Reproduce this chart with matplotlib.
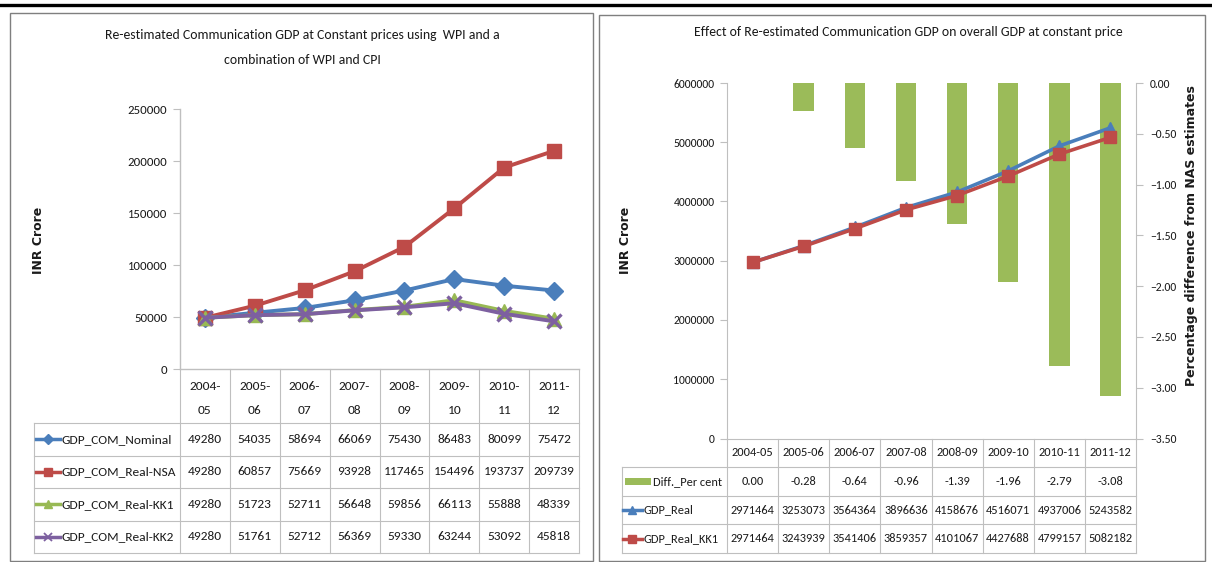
import numpy as np
import matplotlib
matplotlib.use("Agg")
import matplotlib.pyplot as plt
from matplotlib.lines import Line2D
from matplotlib.patches import Rectangle
from matplotlib import font_manager
from matplotlib.font_manager import FontProperties
from matplotlib.transforms import blended_transform_factory
from matplotlib.ticker import StrMethodFormatter

# ---------------- data ----------------
years = ['2004-05', '2005-06', '2006-07', '2007-08', '2008-09', '2009-10', '2010-11', '2011-12']

left_series_names = ['GDP_COM_Nominal', 'GDP_COM_Real-NSA', 'GDP_COM_Real-KK1', 'GDP_COM_Real-KK2']
gdp_com_nominal = [49280, 54035, 58694, 66069, 75430, 86483, 80099, 75472]
gdp_com_real_nsa = [49280, 60857, 75669, 93928, 117465, 154496, 193737, 209739]
gdp_com_real_kk1 = [49280, 51723, 52711, 56648, 59856, 66113, 55888, 48339]
gdp_com_real_kk2 = [49280, 51761, 52712, 56369, 59330, 63244, 53092, 45818]

right_series_names = ['Diff._Per cent', 'GDP_Real', 'GDP_Real_KK1']
diff_per_cent = [0.00, -0.28, -0.64, -0.96, -1.39, -1.96, -2.79, -3.08]
gdp_real = [2971464, 3253073, 3564364, 3896636, 4158676, 4516071, 4937006, 5243582]
gdp_real_kk1 = [2971464, 3243939, 3541406, 3859357, 4101067, 4427688, 4799157, 5082182]

left_title = ['Re-estimated Communication GDP at Constant prices using  WPI and a',
              'combination of WPI and CPI']
right_title = 'Effect of Re-estimated Communication GDP on overall GDP at constant price'
y_label = 'INR Crore'
y2_label = 'Percentage difference from NAS estimates'

# ---------------- font choice ----------------
fl = font_manager.fontManager.ttflist


def has_regular(name):
    return any(f.name == name and f.style == 'normal' and
               str(f.weight).lower() in ('400', 'normal', 'regular', 'book') for f in fl)


FONT = 'Liberation Sans'
for cand in ['Carlito', 'Open Sans Condensed', 'Fira Sans Condensed', 'PT Sans Narrow',
             'Sofia Sans Semi Condensed', 'Roboto Condensed', 'Liberation Sans Narrow']:
    if has_regular(cand):
        FONT = cand
        break
plt.rcParams['font.family'] = [FONT, 'DejaVu Sans']

BLUE = '#4A7EBB'
RED = '#BE4B48'
GREEN = '#98B954'
PURPLE = '#7D60A0'
BARGREEN = '#9BBB59'
GRID = '#BFBFBF'
TXT = '#1a1a1a'

W, H = 1212, 562
fig = plt.figure(figsize=(W / 100, H / 100), dpi=100)
fig.patch.set_facecolor('white')
renderer = fig.canvas.get_renderer()


def fit(s, target_px):
    fp = FontProperties(family=[FONT, 'DejaVu Sans'], size=10)
    w, h, d = renderer.get_text_width_height_descent(s, fp, ismath=False)
    return 10 * target_px / w


TITLE_FS = (fit(left_title[0], 402) + fit(right_title, 424)) / 2
LTICK_FS = fit('250000', 39)
LTAB_FS = (fit('GDP_COM_Real-NSA', 116) + fit('154496', 40.7)) / 2
RTICK_FS = fit('6000000', 41.7)
RTAB_FS = (fit('2971464', 41) + fit('GDP_Real_KK1', 80)) / 2


def fx(x):
    return x / W


def fy(y):
    return 1 - y / H


def fline(x0, y0, x1, y1, color=GRID, lw=0.8, **kw):
    fig.add_artist(Line2D([fx(x0), fx(x1)], [fy(y0), fy(y1)], transform=fig.transFigure,
                          color=color, lw=lw, **kw))


# top black rule and panel borders
fline(0, 5, W, 5, color='black', lw=2.4)
fig.add_artist(Rectangle((fx(10), fy(561)), (593 - 10) / W, (561 - 13) / H, transform=fig.transFigure,
                         fill=False, ec='#7F7F7F', lw=1.0))
fig.add_artist(Rectangle((fx(599), fy(561)), (1205 - 599) / W, (561 - 15) / H, transform=fig.transFigure,
                         fill=False, ec='#7F7F7F', lw=1.0))

x = np.arange(len(years))

# ================= LEFT CHART =================
axL = fig.add_axes([fx(180), fy(369), (579 - 180) / W, (369 - 109) / H])
axL.set_facecolor('none')
left_vals = [gdp_com_nominal, gdp_com_real_nsa, gdp_com_real_kk1, gdp_com_real_kk2]
left_cols = [BLUE, RED, GREEN, PURPLE]
left_marks = [('D', 9.5, 1), ('s', 10, 1), ('^', 10, 1), ('x', 9.5, 2.4)]
for vals, c, (m, ms, mew) in zip(left_vals, left_cols, left_marks):
    axL.plot(x, vals, color=c, lw=2.8, marker=m, ms=ms, mew=mew, mfc=c, mec=c)
axL.set_xlim(-0.5, len(years) - 0.5)
axL.set_ylim(0, 250000)
axL.set_yticks(np.arange(0, 250001, 50000))
axL.set_xticks([])
for s in ['top', 'right']:
    axL.spines[s].set_visible(False)
for s in ['left', 'bottom']:
    axL.spines[s].set_color(GRID)
    axL.spines[s].set_linewidth(1.0)
axL.tick_params(axis='y', direction='out', length=5, color=GRID, labelsize=LTICK_FS, labelcolor=TXT, pad=4)

fig.text(fx(302), fy(35), left_title[0], ha='center', va='center', fontsize=TITLE_FS, color=TXT)
fig.text(fx(302), fy(60), left_title[1], ha='center', va='center', fontsize=TITLE_FS, color=TXT)
fig.text(fx(38), fy(240), y_label, rotation=90, ha='center', va='center', fontsize=9,
         fontweight='bold', family='DejaVu Sans', color=TXT)

# left data table
trL = blended_transform_factory(axL.transData, fig.transFigure)
row_lines_L = [423, 455.5, 488, 520.5, 553]
for b in np.arange(-0.5, len(years), 1.0):
    fig.add_artist(Line2D([b, b], [fy(369), fy(553)], transform=trL, color=GRID, lw=0.8))
for yy in row_lines_L:
    fline(34, yy, 579, yy)
fline(34, 423, 34, 553)
for i, yr in enumerate(years):
    a, b = yr.split('-')
    fig.text(i, fy(386), a + '-', transform=trL, ha='center', va='center', fontsize=LTAB_FS, color=TXT)
    fig.text(i, fy(410), b, transform=trL, ha='center', va='center', fontsize=LTAB_FS, color=TXT)
for r, (name, vals, c, (m, ms, mew)) in enumerate(zip(left_series_names, left_vals, left_cols, left_marks)):
    yc = (row_lines_L[r] + row_lines_L[r + 1]) / 2
    fig.add_artist(Line2D([fx(36), fx(60)], [fy(yc), fy(yc)], transform=fig.transFigure, color=c, lw=2.5))
    fig.add_artist(Line2D([fx(48)], [fy(yc)], transform=fig.transFigure, color=c, marker=m,
                          ms=5.5, mew=1.3 if m == 'x' else 1, mfc=c, mec=c))
    fig.text(fx(61), fy(yc), name, ha='left', va='center', fontsize=LTAB_FS, color=TXT)
    for i, v in enumerate(vals):
        fig.text(i, fy(yc), f'{v}', transform=trL, ha='center', va='center', fontsize=LTAB_FS, color=TXT)

# ================= RIGHT CHART =================
pos = [fx(727), fy(438.5), (1136 - 727) / W, (438.5 - 83) / H]
axB = fig.add_axes(pos)
axB.bar(x, diff_per_cent, width=0.4, color=BARGREEN, zorder=2)
axB.set_xlim(-0.5, len(years) - 0.5)
axB.set_ylim(-3.5, 0)
axB.set_yticks(np.arange(-3.5, 0.001, 0.5))
axB.yaxis.set_major_formatter(StrMethodFormatter('{x:.2f}'))
axB.yaxis.tick_right()
axB.set_xticks([])
for s in ['top', 'left', 'bottom']:
    axB.spines[s].set_visible(False)
axB.spines['right'].set_color(GRID)
axB.tick_params(axis='y', direction='out', length=5, color=GRID, labelsize=RTICK_FS, labelcolor=TXT, pad=5)

axR = fig.add_axes(pos)
axR.patch.set_visible(False)
axR.plot(x, gdp_real, color=BLUE, lw=2.6, marker='^', ms=9, mfc=BLUE, mec=BLUE, zorder=3)
axR.plot(x, gdp_real_kk1, color=RED, lw=2.6, marker='s', ms=9, mfc=RED, mec=RED, zorder=4)
axR.set_xlim(-0.5, len(years) - 0.5)
axR.set_ylim(0, 6000000)
axR.set_yticks(np.arange(0, 6000001, 1000000))
axR.yaxis.set_major_formatter(StrMethodFormatter('{x:.0f}'))
axR.set_xticks([])
for s in ['top', 'right']:
    axR.spines[s].set_visible(False)
for s in ['left', 'bottom']:
    axR.spines[s].set_color(GRID)
axR.tick_params(axis='y', direction='out', length=5, color=GRID, labelsize=RTICK_FS, labelcolor=TXT, pad=4)

fig.text(fx(908), fy(32), right_title, ha='center', va='center', fontsize=TITLE_FS, color=TXT)
fig.text(fx(625), fy(240), y_label, rotation=90, ha='center', va='center', fontsize=9,
         fontweight='bold', family='DejaVu Sans', color=TXT)
fig.text(fx(1192), fy(236), y2_label, rotation=90, ha='center', va='center', fontsize=9,
         fontweight='bold', family='DejaVu Sans', color=TXT)

# right data table
trR = blended_transform_factory(axR.transData, fig.transFigure)
row_lines_R = [467, 495.7, 524.3, 553]
for b in np.arange(-0.5, len(years), 1.0):
    fig.add_artist(Line2D([b, b], [fy(438.5), fy(553)], transform=trR, color=GRID, lw=0.8))
for yy in row_lines_R:
    fline(622, yy, 1136, yy)
fline(622, 467, 622, 553)
for i, yr in enumerate(years):
    fig.text(i, fy(453), yr, transform=trR, ha='center', va='center', fontsize=RTAB_FS, color=TXT)

right_rows = [
    (right_series_names[0], [f'{v:.2f}' for v in diff_per_cent], 'bar', BARGREEN),
    (right_series_names[1], [f'{v}' for v in gdp_real], '^', BLUE),
    (right_series_names[2], [f'{v}' for v in gdp_real_kk1], 's', RED),
]
for r, (name, labels, kind, c) in enumerate(right_rows):
    yc = (row_lines_R[r] + row_lines_R[r + 1]) / 2
    if kind == 'bar':
        fig.add_artist(Rectangle((fx(625), fy(yc + 3.5)), 26 / W, 7 / H, transform=fig.transFigure,
                                 fc=BARGREEN, ec='none'))
        tx = 653
    else:
        fig.add_artist(Line2D([fx(623), fx(642)], [fy(yc), fy(yc)], transform=fig.transFigure, color=c, lw=2.5))
        fig.add_artist(Line2D([fx(632)], [fy(yc)], transform=fig.transFigure, color=c, marker=kind,
                              ms=5.5, mfc=c, mec=c))
        tx = 644
    fig.text(fx(tx), fy(yc), name, ha='left', va='center', fontsize=RTAB_FS, color=TXT)
    for i, lab in enumerate(labels):
        fig.text(i, fy(yc), lab, transform=trR, ha='center', va='center', fontsize=RTAB_FS, color=TXT)

fig.savefig('out.png', dpi=100, facecolor='white')
